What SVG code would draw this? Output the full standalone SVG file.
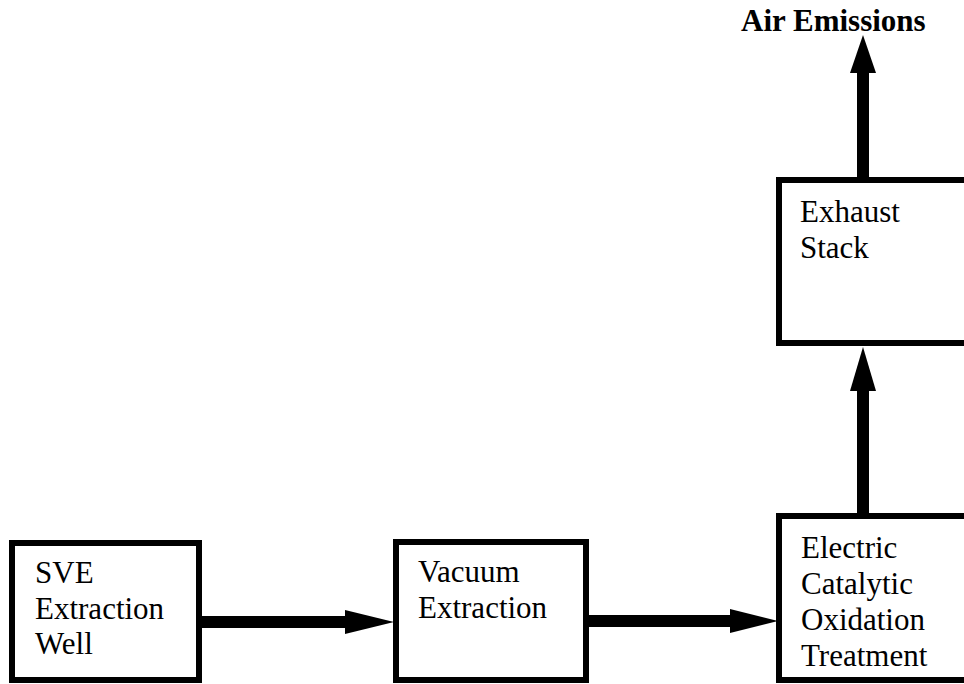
<svg xmlns="http://www.w3.org/2000/svg" width="964" height="684" viewBox="0 0 964 684">
<style>
.box{fill:#fff;stroke:#000;stroke-width:6}
.t{font-family:'Liberation Serif',Tinos,'Times New Roman',Times,'DejaVu Serif',serif;font-size:31px;fill:#000}
.b{font-family:'Liberation Serif',Tinos,'Times New Roman',Times,'DejaVu Serif',serif;font-size:31px;font-weight:bold;fill:#000}
.c{stroke:#000;stroke-width:12;fill:none}
.h{fill:#000}
</style>
<rect width="964" height="684" fill="#fff"/>
<g id="connectors">
<line class="c" x1="202" y1="622" x2="348" y2="622"/>
<polygon class="h" points="345,610 394,622 345,634"/>
<line class="c" x1="589" y1="621" x2="733" y2="621"/>
<polygon class="h" points="730,609 778,621 730,633"/>
<line class="c" x1="863" y1="513" x2="863" y2="388"/>
<polygon class="h" points="850,391 863,347 876,391"/>
<line class="c" x1="863" y1="177" x2="863" y2="70"/>
<polygon class="h" points="850,73 863,35 876,73"/>
</g>
<g id="sve">
<rect class="box" x="12" y="543" width="187" height="137"/>
<text class="t" x="35" y="583">SVE</text>
<text class="t" x="35" y="619">Extraction</text>
<text class="t" x="35" y="654">Well</text>
</g>
<g id="vacuum">
<rect class="box" x="396" y="542" width="190" height="138"/>
<text class="t" x="418" y="582">Vacuum</text>
<text class="t" x="418" y="618">Extraction</text>
</g>
<g id="oxidation">
<rect class="box" x="779" y="516" width="200" height="164"/>
<text class="t" x="801" y="558">Electric</text>
<text class="t" x="801" y="594">Catalytic</text>
<text class="t" x="801" y="630">Oxidation</text>
<text class="t" x="801" y="666">Treatment</text>
</g>
<g id="exhaust">
<rect class="box" x="779" y="180" width="200" height="163"/>
<text class="t" x="800" y="222">Exhaust</text>
<text class="t" x="800" y="258">Stack</text>
</g>
<g id="air">
<text class="b" x="741" y="31">Air Emissions</text>
</g>
</svg>
